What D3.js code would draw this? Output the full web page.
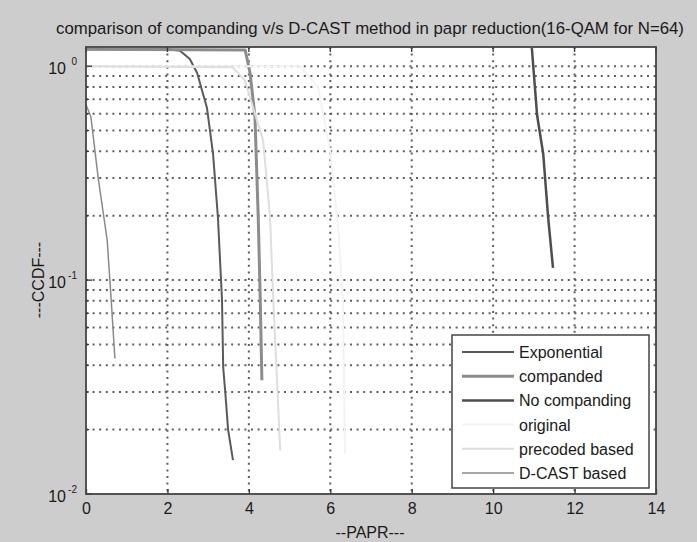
<!DOCTYPE html>
<html>
<head>
<meta charset="utf-8">
<script src="https://cdn.jsdelivr.net/npm/d3@7"></script>
<style>
  body { margin: 0; background: #cdcdcd; }
  svg { display: block; font-family: "Liberation Sans", Arial, sans-serif; }
</style>
</head>
<body>
<svg id="chart" width="697" height="542"></svg>
<script>
// ---- data (PAPR in dB, CCDF) ----
var seriesNames = ["Exponential", "companded", "No companding", "original", "precoded based", "D-CAST based"];

var expPapr  = [0, 2.0, 2.31, 2.55, 2.73, 2.97, 3.12, 3.24, 3.34, 3.37, 3.42, 3.49, 3.61];
var expCcdf  = [1.2, 1.2, 1.18, 1.08, 0.93, 0.64, 0.39, 0.197, 0.081, 0.039, 0.03, 0.02, 0.0144];

var compPapr = [0, 3.91, 4.03, 4.15, 4.23, 4.28, 4.32];
var compCcdf = [1.2, 1.19, 0.93, 0.58, 0.197, 0.081, 0.034];

var noCompPapr = [10.95, 11.08, 11.23, 11.35, 11.47];
var noCompCcdf = [1.22, 0.59, 0.39, 0.197, 0.114];

var origPapr = [0, 5.26, 5.7, 6.0, 6.2, 6.31, 6.36];
var origCcdf = [1.0, 1.0, 0.8, 0.4, 0.17, 0.081, 0.0155];

var precPapr = [0, 3.6, 3.9, 4.35, 4.52, 4.6, 4.77];
var precCcdf = [1.0, 0.99, 0.86, 0.45, 0.197, 0.081, 0.016];

var dcastPapr = [0, 0.12, 0.3, 0.52, 0.62, 0.71];
var dcastCcdf = [0.66, 0.58, 0.3, 0.154, 0.08, 0.043];

var xTicks = [0, 2, 4, 6, 8, 10, 12, 14];
var yTicks = [0.01, 0.1, 1];
var yTickExp = ["-2", "-1", "0"];
var yMinor = [0.02, 0.03, 0.04, 0.05, 0.06, 0.07, 0.08, 0.09, 0.2, 0.3, 0.4, 0.5, 0.6, 0.7, 0.8, 0.9];

// look of each line (legend order)
var lineColor = ["#5a5a5a", "#8c8c8c", "#4e4e4e", "#f3f3f3", "#dedede", "#8a8a8a"];
var lineWidth = [2, 3, 2.5, 2, 2, 1.5];

var allX = [expPapr, compPapr, noCompPapr, origPapr, precPapr, dcastPapr];
var allY = [expCcdf, compCcdf, noCompCcdf, origCcdf, precCcdf, dcastCcdf];

var pLeft = 86, pRight = 656, pTop = 47, pBottom = 494;

var svg = d3.select("#chart");

var x = d3.scaleLinear().domain([0, 14]).range([pLeft, pRight]);
var y = d3.scaleLog().domain([0.01, 1.23]).range([pBottom, pTop]);

// plot area
svg.append("rect")
  .attr("x", pLeft).attr("y", pTop)
  .attr("width", pRight - pLeft).attr("height", pBottom - pTop)
  .attr("fill", "#fff");

svg.append("clipPath").attr("id", "clip")
  .append("rect")
  .attr("x", pLeft).attr("y", pTop)
  .attr("width", pRight - pLeft).attr("height", pBottom - pTop);

// dotted grid
var grid = svg.append("g").attr("stroke", "#5f5f5f").attr("stroke-width", 2)
  .attr("stroke-dasharray", "2,4.6");

grid.selectAll(".vg")
  .data(xTicks.slice(1, -1))
  .enter().append("line")
  .attr("x1", function(d){ return x(d); })
  .attr("x2", function(d){ return x(d); })
  .attr("y1", pTop).attr("y2", pBottom);

grid.selectAll(".hg")
  .data(yMinor.concat([0.1, 1]))
  .enter().append("line")
  .attr("x1", pLeft).attr("x2", pRight)
  .attr("y1", function(d){ return y(d); })
  .attr("y2", function(d){ return y(d); });

// curves
var line = d3.line()
  .x(function(d){ return x(d[0]); })
  .y(function(d){ return y(d[1]); });

var curves = svg.append("g").attr("clip-path", "url(#clip)");
allX.forEach(function(xs, i){
  var pts = xs.map(function(v, j){ return [v, allY[i][j]]; });
  curves.append("path")
    .datum(pts)
    .attr("d", line)
    .attr("fill", "none")
    .attr("stroke", lineColor[i])
    .attr("stroke-width", lineWidth[i])
    .attr("stroke-linejoin", "round");
});

// axes (ticks pointing inwards, like matlab)
var xAxis = d3.axisBottom(x).tickValues(xTicks).tickSizeInner(-5).tickSizeOuter(0).tickPadding(9);
var gx = svg.append("g")
  .attr("transform", "translate(0," + pBottom + ")")
  .call(xAxis);
gx.select(".domain").remove();
gx.selectAll("line").attr("stroke", "#333").attr("stroke-width", 1.3);
gx.selectAll("text").attr("font-size", 16).attr("fill", "#1a1a1a").attr("font-family", "Liberation Sans, Arial, sans-serif");

// top ticks
svg.append("g").selectAll("line")
  .data(xTicks)
  .enter().append("line")
  .attr("x1", function(d){ return x(d); }).attr("x2", function(d){ return x(d); })
  .attr("y1", pTop).attr("y2", pTop + 5)
  .attr("stroke", "#333").attr("stroke-width", 1.3);

// y ticks
var yt = svg.append("g");
yt.selectAll(".maj")
  .data(yTicks)
  .enter().append("line")
  .attr("x1", pLeft).attr("x2", pLeft + 6)
  .attr("y1", function(d){ return y(d); }).attr("y2", function(d){ return y(d); })
  .attr("stroke", "#333").attr("stroke-width", 1.3);
yt.selectAll(".min")
  .data(yMinor)
  .enter().append("line")
  .attr("x1", pLeft).attr("x2", pLeft + 3)
  .attr("y1", function(d){ return y(d); }).attr("y2", function(d){ return y(d); })
  .attr("stroke", "#333").attr("stroke-width", 1.2);

var ylab = yt.selectAll(".lab")
  .data(yTicks)
  .enter().append("text")
  .attr("x", pLeft - 20)
  .attr("y", function(d){ return y(d) + 8; })
  .attr("text-anchor", "end")
  .attr("font-size", 16)
  .attr("fill", "#1a1a1a");
ylab.append("tspan").text("10");
ylab.append("tspan")
  .attr("x", pLeft - 9)
  .attr("font-size", 10)
  .attr("dy", -9)
  .text(function(d, i){ return yTickExp[i]; });

// frame
svg.append("rect")
  .attr("x", pLeft).attr("y", pTop)
  .attr("width", pRight - pLeft).attr("height", pBottom - pTop)
  .attr("fill", "none").attr("stroke", "#444").attr("stroke-width", 1.8);

// titles
svg.append("text")
  .attr("x", 370).attr("y", 34)
  .attr("text-anchor", "middle")
  .attr("font-size", 16.8)
  .attr("fill", "#1a1a1a")
  .text("comparison of companding v/s D-CAST method in papr reduction(16-QAM for N=64)");

svg.append("text")
  .attr("x", 370).attr("y", 538)
  .attr("text-anchor", "middle")
  .attr("font-size", 16)
  .attr("fill", "#1a1a1a")
  .text("--PAPR---");

svg.append("text")
  .attr("transform", "translate(44,280) rotate(-90)")
  .attr("text-anchor", "middle")
  .attr("font-size", 16)
  .attr("fill", "#1a1a1a")
  .text("---CCDF---");

// legend
var lg = svg.append("g");
lg.append("rect")
  .attr("x", 452).attr("y", 335)
  .attr("width", 197).attr("height", 153)
  .attr("fill", "#fff").attr("stroke", "#444").attr("stroke-width", 1.5);

var rows = lg.selectAll(".row")
  .data(seriesNames)
  .enter().append("g")
  .attr("transform", function(d, i){ return "translate(0," + (352 + i * 24.2) + ")"; });

rows.append("line")
  .attr("x1", 462).attr("x2", 514)
  .attr("y1", 0).attr("y2", 0)
  .attr("stroke", function(d, i){ return lineColor[i]; })
  .attr("stroke-width", function(d, i){ return lineWidth[i]; });

rows.append("text")
  .attr("x", 519).attr("y", 6)
  .attr("font-size", 16)
  .attr("fill", "#1a1a1a")
  .text(function(d){ return d; });
</script>
</body>
</html>
